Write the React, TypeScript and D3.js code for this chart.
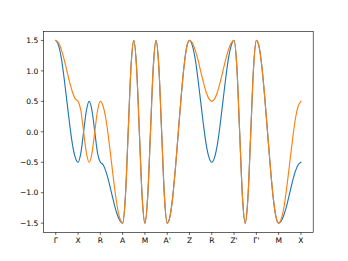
import React from "react";
import * as d3 from "d3";

const kLabels = ["Γ", "X", "R", "A", "M", "A'", "Z", "R", "Z'", "Γ'", "M", "X"];
const yTicks = [-1.5, -1.0, -0.5, 0.0, 0.5, 1.0, 1.5];
const step = 0.125;

const band1 = [
  1.50, 1.42, 1.21, 0.88, 0.50, 0.12, -0.21, -0.42,
  -0.50, -0.35, 0.00, 0.35, 0.50, 0.35, 0.00, -0.35,
  -0.50, -0.54, -0.65, -0.81, -1.00, -1.19, -1.35, -1.46,
  -1.50, -1.06, 0.00, 1.06, 1.50, 1.06, 0.00, -1.06,
  -1.50, -1.06, 0.00, 1.06, 1.50, 1.06, 0.00, -1.06,
  -1.50, -1.39, -1.06, -0.57, 0.00, 0.57, 1.06, 1.39,
  1.50, 1.42, 1.21, 0.88, 0.50, 0.12, -0.21, -0.42,
  -0.50, -0.42, -0.21, 0.12, 0.50, 0.88, 1.21, 1.42,
  1.50, 1.06, 0.00, -1.06, -1.50, -1.06, 0.00, 1.06,
  1.50, 1.39, 1.06, 0.57, 0.00, -0.57, -1.06, -1.39,
  -1.50, -1.46, -1.35, -1.19, -1.00, -0.81, -0.65, -0.54,
  -0.50,
];

const band2 = [
  1.50, 1.46, 1.35, 1.19, 1.00, 0.81, 0.65, 0.54,
  0.50, 0.35, 0.00, -0.35, -0.50, -0.35, 0.00, 0.35,
  0.50, 0.42, 0.21, -0.12, -0.50, -0.88, -1.21, -1.42,
  -1.50, -1.06, 0.00, 1.06, 1.50, 1.06, 0.00, -1.06,
  -1.50, -1.06, 0.00, 1.06, 1.50, 1.06, 0.00, -1.06,
  -1.50, -1.39, -1.06, -0.57, 0.00, 0.57, 1.06, 1.39,
  1.50, 1.46, 1.35, 1.19, 1.00, 0.81, 0.65, 0.54,
  0.50, 0.54, 0.65, 0.81, 1.00, 1.19, 1.35, 1.46,
  1.50, 1.06, 0.00, -1.06, -1.50, -1.06, 0.00, 1.06,
  1.50, 1.39, 1.06, 0.57, 0.00, -0.57, -1.06, -1.39,
  -1.50, -1.42, -1.21, -0.88, -0.50, -0.12, 0.21, 0.42,
  0.50,
];

const W = 348;
const H = 261;
const left = 43.5;
const right = 313.2;
const top = 31.3;
const bottom = 232.3;
const s = 54.375 / 72;

export default function App() {
  const n = kLabels.length - 1;
  const xPad = n * 0.05;
  const x = d3.scaleLinear().domain([-xPad, n + xPad]).range([left, right]);
  const yPad = 3 * 0.05;
  const y = d3.scaleLinear().domain([-1.5 - yPad, 1.5 + yPad]).range([bottom, top]);
  const line = d3
    .line<number>()
    .x((_, i) => x(i * step))
    .y((d) => y(d))
    .curve(d3.curveMonotoneX);
  const tickLen = 3.5 * s;
  const pad = 3.5 * s;
  const fs = 10 * s;
  const fmt = (v: number) => (v < 0 ? "\u2212" : "") + Math.abs(v).toFixed(1);
  return (
    <svg
      width={W}
      height={H}
      style={{ position: "fixed", left: 0, top: 0, background: "#fff" }}
      fontFamily="DejaVu Sans"
    >
      <rect x={0} y={0} width={W} height={H} fill="#fff" />
      <path d={line(band1) || ""} fill="none" stroke="#1f77b4" strokeWidth={1.5 * s} strokeLinejoin="round" strokeLinecap="square" />
      <path d={line(band2) || ""} fill="none" stroke="#ff7f0e" strokeWidth={1.5 * s} strokeLinejoin="round" strokeLinecap="square" />
      <rect x={left} y={top} width={right - left} height={bottom - top} fill="none" stroke="#000" strokeWidth={0.8 * s} />
      {kLabels.map((lab, i) => (
        <g key={"x" + i}>
          <line x1={x(i)} x2={x(i)} y1={bottom} y2={bottom + tickLen} stroke="#000" strokeWidth={0.8 * s} />
          <text x={x(i)} y={bottom + tickLen + pad} dy="0.76em" textAnchor="middle" fontSize={fs} fill="#000">
            {lab}
          </text>
        </g>
      ))}
      {yTicks.map((v) => (
        <g key={"y" + v}>
          <line x1={left - tickLen} x2={left} y1={y(v)} y2={y(v)} stroke="#000" strokeWidth={0.8 * s} />
          <text x={left - tickLen - pad} y={y(v)} dy="0.36em" textAnchor="end" fontSize={fs} fill="#000">
            {fmt(v)}
          </text>
        </g>
      ))}
    </svg>
  );
}
